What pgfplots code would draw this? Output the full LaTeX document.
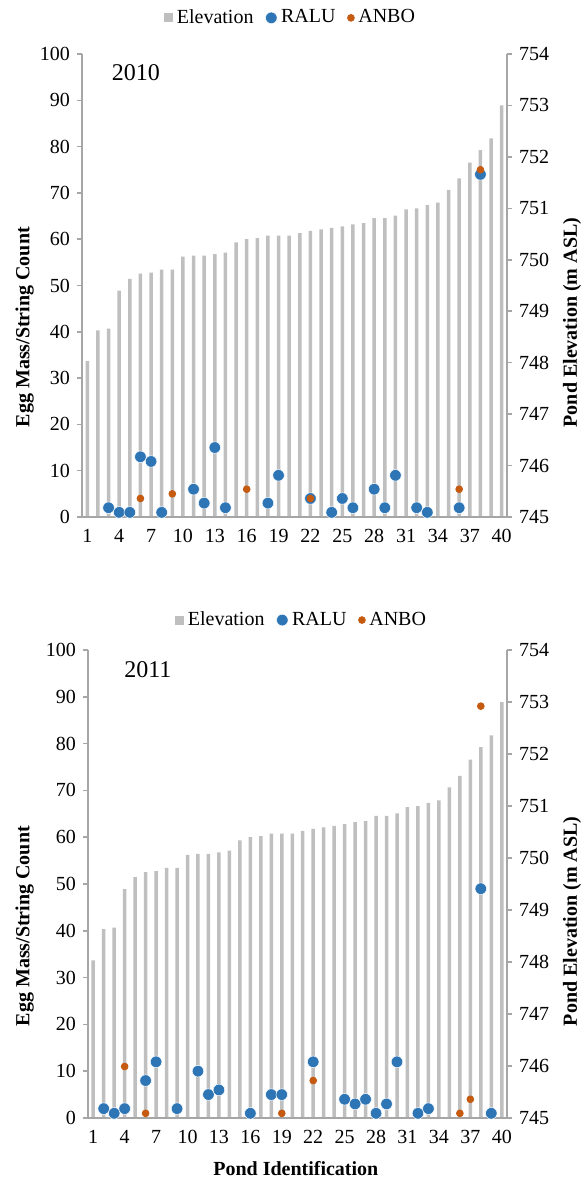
\documentclass[border=0pt]{standalone}
\usepackage{fontspec}
\setmainfont{Liberation Serif}
\usepackage{pgfplots}
\pgfplotsset{compat=1.18}
\usepackage{pgfplotstable}

\definecolor{elevc}{HTML}{BFBFBF}
\definecolor{raluc}{HTML}{2E75B6}
\definecolor{anboc}{HTML}{C55A11}
\definecolor{axgray}{HTML}{A6A6A6}

\pgfplotstableread{
pond elev
1 748.03
2 748.63
3 748.66
4 749.40
5 749.63
6 749.73
7 749.75
8 749.81
9 749.81
10 750.06
11 750.08
12 750.08
13 750.11
14 750.14
15 750.34
16 750.40
17 750.42
18 750.47
19 750.47
20 750.47
21 750.52
22 750.56
23 750.59
24 750.62
25 750.65
26 750.69
27 750.71
28 750.81
29 750.81
30 750.86
31 750.98
32 751.00
33 751.06
34 751.11
35 751.36
36 751.58
37 751.89
38 752.13
39 752.36
40 753.00
}\elevtab

\pgfplotstableread{
pond count
3 2
4 1
5 1
6 13
7 12
8 1
11 6
12 3
13 15
14 2
18 3
19 9
22 4
24 1
25 4
26 2
28 6
29 2
30 9
32 2
33 1
36 2
38 74
}\raluA

\pgfplotstableread{
pond count
6 4
9 5
16 6
22 4
36 6
38 75
}\anboA

\pgfplotstableread{
pond count
2 2
3 1
4 2
6 8
7 12
9 2
11 10
12 5
13 6
16 1
18 5
19 5
22 12
25 4
26 3
27 4
28 1
29 3
30 12
32 1
33 2
38 49
39 1
}\raluB

\pgfplotstableread{
pond count
4 11
6 1
19 1
22 8
36 1
37 4
38 88
}\anboB

\pgfplotsset{
  base/.style={
    scale only axis,
    xmin=0.5, xmax=40.5,
    axis line style={axgray, line width=0.75pt},
    tick align=outside,
    major tick length=2.5pt,
    ytick style={axgray, line width=0.75pt},
    xtick style={draw=none},
    tick label style={font=\fontsize{10}{12}\selectfont, black},
    /pgf/number format/assume math mode=true,
    label style={font=\fontsize{10}{12}\selectfont\bfseries},
    clip=false,
  },
  elevaxis/.style={
    base,
    ymin=0, ymax=9,
    axis x line=none,
    axis y line*=right,
    ytick={0,1,2,3,4,5,6,7,8,9},
    yticklabels={745,746,747,748,749,750,751,752,753,754},
    ylabel={Pond Elevation (m ASL)},
  },
  eggaxis/.style={
    base,
    ymin=0, ymax=100,
    axis x line*=bottom,
    axis y line*=left,
    ytick={0,10,...,100},
    xtick={1,4,...,40},
    ylabel={Egg Mass/String Count},
    legend columns=3,
    legend style={draw=none, fill=none, font=\fontsize{10}{12}\selectfont,
      /tikz/every even column/.append style={column sep=4pt}},
    legend cell align=left,
  },
  elevbars/.style={ybar, bar width=1.75pt, bar shift=0pt, fill=elevc, draw=none},
  ralumark/.style={only marks, mark=*, mark size=2.9pt, color=raluc, mark options={draw=white, line width=0.25pt, fill=raluc}},
  anbomark/.style={only marks, mark=*, mark size=1.7pt, color=anboc, mark options={draw=anboc, fill=anboc}},
}

\begin{document}
\begin{tikzpicture}
\useasboundingbox (0,0) rectangle (292.5pt,589.5pt);

% ---------- 2010 ----------
\begin{axis}[elevaxis, at={(41pt,331pt)}, anchor=south west, width=212.5pt, height=231.5pt,
  ylabel style={at={(axis description cs:1.153,0.42)}, anchor=center}]
\addplot[elevbars] table[x=pond, y expr=\thisrow{elev}-745] {\elevtab};
\end{axis}
\begin{axis}[eggaxis, at={(41pt,331pt)}, anchor=south west, width=212.5pt, height=231.5pt,
  ylabel style={at={(axis description cs:-0.135,0.41)}, anchor=center},
  legend style={at={(axis description cs:0.494,1.078)}, anchor=center}]
\addlegendimage{only marks, mark=square*, mark size=2pt, color=elevc}
\addlegendentry{Elevation}
\addplot[ralumark] table[x=pond, y=count] {\raluA};
\addlegendentry{RALU}
\addplot[anbomark] table[x=pond, y=count] {\anboA};
\addlegendentry{ANBO}
\node[font=\fontsize{12}{14}\selectfont] at (axis description cs:0.127,0.959) {2010};
\end{axis}

% ---------- 2011 ----------
\begin{axis}[elevaxis, at={(44pt,30.5pt)}, anchor=south west, width=209.5pt, height=234pt,
  ylabel style={at={(axis description cs:1.155,0.42)}, anchor=center}]
\addplot[elevbars] table[x=pond, y expr=\thisrow{elev}-745] {\elevtab};
\end{axis}
\begin{axis}[eggaxis, at={(44pt,30.5pt)}, anchor=south west, width=209.5pt, height=234pt,
  ylabel style={at={(axis description cs:-0.151,0.41)}, anchor=center},
  xlabel={Pond Identification},
  xlabel style={at={(axis description cs:0.496,-0.107)}, anchor=center},
  legend style={at={(axis description cs:0.513,1.064)}, anchor=center}]
\addlegendimage{only marks, mark=square*, mark size=2pt, color=elevc}
\addlegendentry{Elevation}
\addplot[ralumark] table[x=pond, y=count] {\raluB};
\addlegendentry{RALU}
\addplot[anbomark] table[x=pond, y=count] {\anboB};
\addlegendentry{ANBO}
\node[font=\fontsize{12}{14}\selectfont] at (axis description cs:0.143,0.957) {2011};
\end{axis}
\end{tikzpicture}
\end{document}
